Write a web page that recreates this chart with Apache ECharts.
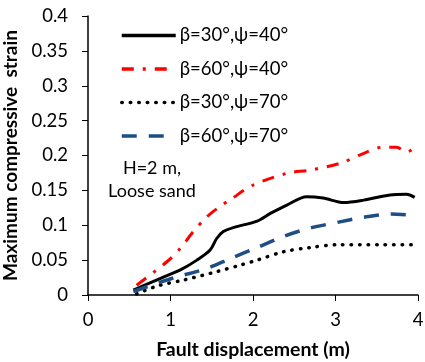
<!DOCTYPE html>
<html>
<head>
<meta charset="utf-8">
<script src="https://cdn.jsdelivr.net/npm/echarts@6/dist/echarts.min.js"></script>
<style>
  html, body { margin: 0; padding: 0; background: #fff; }
  #main { width: 425px; height: 362px; }
</style>
</head>
<body>
<div id="main"></div>
<script>
// fault displacement (m) / max compressive strain
const xB30P40 = [0.55, 0.88, 1.12, 1.32, 1.48, 1.56, 1.64, 1.77, 2.05, 2.21, 2.41, 2.65, 2.85, 3.10, 3.34, 3.66, 3.86, 3.96];
const yB30P40 = [0.007, 0.024, 0.036, 0.050, 0.0645, 0.081, 0.091, 0.097, 0.106, 0.117, 0.129, 0.141, 0.139, 0.1325, 0.136, 0.1435, 0.1445, 0.140];

const xB60P40 = [0.59, 0.96, 1.12, 1.26, 1.44, 1.60, 1.73, 1.99, 2.41, 2.69, 3.06, 3.30, 3.58, 3.74, 3.86, 4.0];
const yB60P40 = [0.014, 0.048, 0.067, 0.0885, 0.112, 0.127, 0.137, 0.157, 0.1745, 0.179, 0.189, 0.201, 0.212, 0.212, 0.205, 0.214];

const xB30P70 = [0.59, 0.84, 1.16, 1.56, 1.85, 2.05, 2.37, 2.69, 3.02, 3.58, 3.94];
const yB30P70 = [0.0015, 0.013, 0.0215, 0.0335, 0.043, 0.050, 0.062, 0.068, 0.072, 0.072, 0.072];

const xB60P70 = [0.55, 0.84, 1.08, 1.44, 1.73, 2.05, 2.37, 2.69, 3.02, 3.34, 3.66, 3.99];
const yB60P70 = [0.005, 0.017, 0.026, 0.038, 0.0525, 0.068, 0.084, 0.096, 0.104, 0.1115, 0.116, 0.114];

const names = ['β=30°,ψ=40°', 'β=60°,ψ=40°', 'β=30°,ψ=70°', 'β=60°,ψ=70°'];
const xTicks = [0, 1, 2, 3, 4];
const yTicks = [0, 0.05, 0.1, 0.15, 0.2, 0.25, 0.3, 0.35, 0.4];

const zip = (xs, ys) => xs.map((x, i) => [x, ys[i]]);
const font = 'Lato, "Open Sans", sans-serif';

const chart = echarts.init(document.getElementById('main'));

const option = {
    animation: false,
    grid: { left: 88, right: 7, top: 16, bottom: 67, outerBoundsMode: 'none', containLabel: false },
    xAxis: {
        type: 'value',
        min: 0, max: 4, interval: 1,
        name: 'Fault displacement (m)',
        nameLocation: 'middle',
        nameGap: 45,
        nameTextStyle: { fontFamily: font, fontSize: 19.5, fontWeight: 'bold', color: '#000' },
        axisLine: { lineStyle: { color: '#000', width: 1.5 } },
        axisTick: { length: 6, lineStyle: { color: '#000' } },
        axisLabel: { fontFamily: font, fontSize: 18.5, color: '#000', margin: 16,
            formatter: v => xTicks.includes(v) ? String(v) : '' },
        splitLine: { show: false }
    },
    yAxis: {
        type: 'value',
        min: 0, max: 0.4, interval: 0.05,
        name: 'Maximum compressive  strain',
        nameLocation: 'middle',
        nameGap: 57,
        nameTextStyle: { fontFamily: font, fontSize: 19, fontWeight: 'bold', color: '#000' },
        axisLine: { show: true, lineStyle: { color: '#000', width: 1.5 } },
        axisTick: { show: true, length: 6, lineStyle: { color: '#000' } },
        axisLabel: { fontFamily: font, fontSize: 18.5, color: '#000', margin: 20,
            formatter: v => String(yTicks.find(t => Math.abs(t - v) < 1e-9) ?? '') },
        splitLine: { show: false }
    },
    legend: {
        orient: 'vertical',
        left: 115, top: 21,
        itemWidth: 54, itemHeight: 14,
        itemGap: 14.5,
        data: names,
        itemStyle: { opacity: 0 },
        lineStyle: { width: 3.5 },
        textStyle: { fontFamily: font, fontSize: 18.5, color: '#000', padding: [0, 0, 0, -1] }
    },
    graphic: [{
        type: 'text',
        x: 152, y: 157,
        style: {
            text: 'H=2 m,\nLoose sand',
            fontFamily: font, fontSize: 18, fill: '#000',
            lineHeight: 23, align: 'center'
        }
    }],
    series: [
        {
            name: names[0], type: 'line', smooth: 0.3, symbol: 'none',
            data: zip(xB30P40, yB30P40),
            lineStyle: { color: '#000', width: 3 },
            itemStyle: { color: '#000' }
        },
        {
            name: names[1], type: 'line', smooth: 0.3, symbol: 'none',
            data: zip(xB60P40, yB60P40),
            lineStyle: { color: '#ff0000', width: 3, type: [12, 9, 3, 9] },
            itemStyle: { color: '#ff0000' }
        },
        {
            name: names[2], type: 'line', smooth: 0.3, symbol: 'none',
            data: zip(xB30P70, yB30P70),
            lineStyle: { color: '#000', width: 3.5, type: [0.5, 8], cap: 'round' },
            itemStyle: { color: '#000' }
        },
        {
            name: names[3], type: 'line', smooth: 0.3, symbol: 'none',
            data: zip(xB60P70, yB60P70),
            lineStyle: { color: '#1f4e85', width: 3.5, type: [15, 12] },
            itemStyle: { color: '#1f4e85' }
        }
    ]
};

chart.setOption(option);
window.addEventListener('resize', () => chart.resize());
</script>
</body>
</html>
